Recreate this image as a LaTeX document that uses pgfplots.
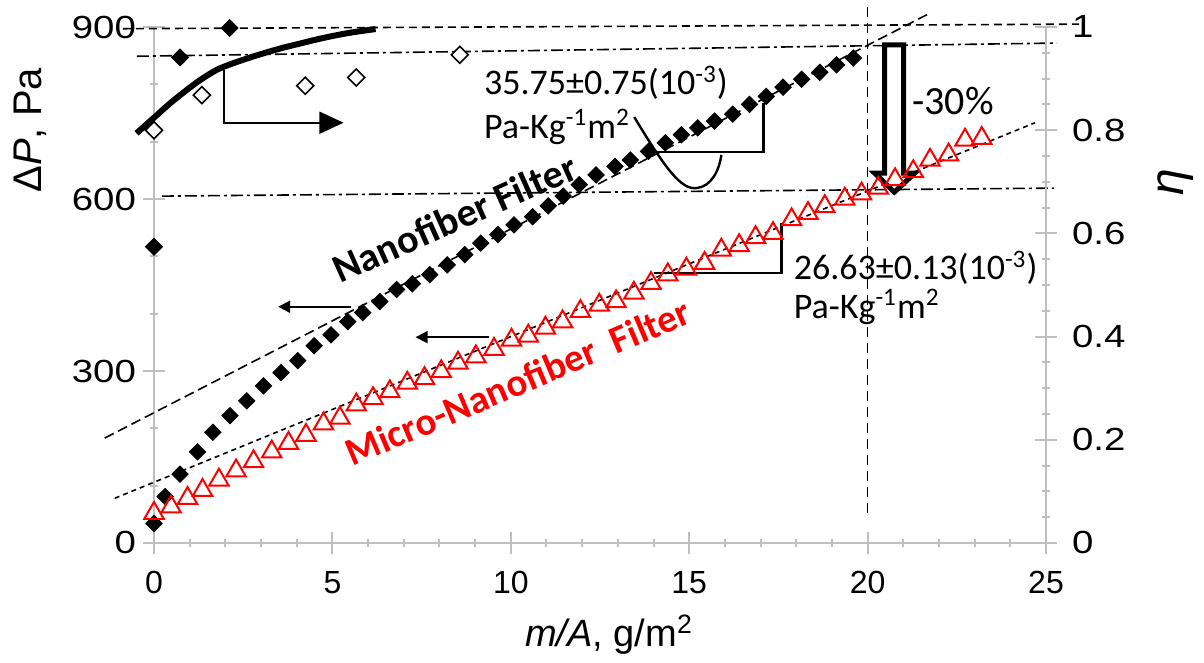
\documentclass[border=0pt]{standalone}
\usepackage{pgfplots}
\pgfplotsset{compat=1.18}
\usepackage{fontspec}
\setmainfont{Liberation Sans}
\newfontfamily\calfont{Carlito}
\usetikzlibrary{arrows.meta,calc}

\definecolor{axgray}{RGB}{191,191,191}

\pgfplotsset{
  base/.style={
    width=446pt, height=258pt, scale only axis,
    xmin=0, xmax=25,
    axis line style={axgray, line width=1pt},
    tick style={axgray, line width=1pt},
    tick align=center,
    major tick length=11pt,
    minor tick length=4pt,
    clip=false,
    tick label style={font=\fontsize{16}{18}\selectfont},
    /pgf/number format/assume math mode=true,
  }
}

\begin{document}
\begin{tikzpicture}

% left axis: pressure drop
\begin{axis}[base, name=ax,
  axis x line*=bottom, axis y line*=left,
  ymin=0, ymax=900,
  xtick={0,5,10,15,20,25}, minor x tick num=4,
  ytick={0,300,600,900}, minor y tick num=2,
  yticklabel={\scalebox{1.2}[1]{\pgfmathprintnumber{\tick}}},
  xticklabel style={yshift=-5pt},
  xlabel={\textit{m/A}, g/m\textsuperscript{2}},
  ylabel={Δ\textit{P}, Pa},
  x label style={at={(axis description cs:0.51,-0.178)}, anchor=center, font=\fontsize{19}{22}\selectfont},
  y label style={at={(axis description cs:-0.139,0.80)}, anchor=center, font=\fontsize{20}{23}\selectfont},
]
% reference lines
\addplot[black, line width=0.8pt, dash pattern=on 4pt off 2.5pt] coordinates {(-0.87,897) (25.93,905)};
\addplot[black, line width=0.8pt, dash pattern=on 6pt off 2pt on 1.5pt off 2pt] coordinates {(-0.48,849) (25.31,872)};
\addplot[black, line width=0.8pt, dash pattern=on 6pt off 2pt on 1.5pt off 2pt] coordinates {(0.22,605) (25.22,619)};
\addplot[black, line width=0.8pt, dash pattern=on 5pt off 3pt] coordinates {(20,935) (20,45)};
% linear fits
\addplot[black, line width=0.8pt, dash pattern=on 5pt off 2.5pt] coordinates {(-1.38,183) (21.71,923)};
\addplot[black, line width=0.8pt, dash pattern=on 2.5pt off 2pt] coordinates {(-1.10,78) (24.69,733)};

% Nanofiber filter
\addplot[only marks, mark=square*, mark size=2.9pt, mark options={rotate=45, black, fill=black}] coordinates {
(0.00,34) (0.31,81) (0.73,120) (1.22,159) (1.65,193) (2.13,222) (2.60,248) (3.07,274)
(3.56,297) (4.03,318) (4.49,344) (4.96,363) (5.43,386) (5.85,402) (6.33,421) (6.80,442)
(7.24,452) (7.73,468) (8.22,485) (8.71,503) (9.16,523) (9.64,538) (10.09,555) (10.61,569)
(11.05,588) (11.47,605) (11.92,625) (12.39,642) (12.92,657) (13.35,668) (13.86,683) (14.33,698)
(14.78,712) (15.24,724) (15.71,736) (16.22,748) (16.69,765) (17.16,779) (17.63,795) (18.15,809)
(18.66,821) (19.13,834) (19.60,846)
};
% Micro-Nanofiber filter
\addplot[only marks, mark=triangle, mark size=5.6pt, mark options={red, line width=1pt}] coordinates {
(0.00,52) (0.48,63) (0.94,78) (1.36,92) (1.82,110) (2.30,126) (2.79,142) (3.30,159)
(3.77,174) (4.26,188) (4.75,208) (5.21,218) (5.67,241) (6.14,252) (6.61,264) (7.10,279)
(7.58,287) (8.05,299) (8.52,314) (9.02,325) (9.53,338) (10.02,354) (10.49,361) (10.97,375)
(11.45,386) (11.95,404) (12.48,415) (12.95,421) (13.45,436) (13.93,453) (14.40,468) (14.92,478)
(15.43,488) (15.90,511) (16.40,519) (16.86,533) (17.35,540) (17.87,564) (18.33,575) (18.80,587)
(19.36,600) (19.83,609) (20.30,619) (20.77,634) (21.28,648) (21.75,668) (22.27,677) (22.73,703)
(23.20,706)
};

% slope triangles and callout
\draw[line width=1.4pt] (axis cs:13.93,682) -- (axis cs:17.08,682) -- (axis cs:17.08,767);
\draw[line width=1.4pt] (axis cs:14.02,471) -- (axis cs:17.58,471) -- (axis cs:17.58,558);
\draw[line width=1.2pt] (axis cs:13.46,743) .. controls (axis cs:14.35,651) and (axis cs:14.78,616) .. (axis cs:15.20,619)
  .. controls (axis cs:15.62,621) and (axis cs:15.85,651) .. (axis cs:15.90,677);

% arrows
\draw[line width=0.9pt, -{Triangle[length=12pt,width=11pt]}] (axis cs:1.97,825) -- (axis cs:1.97,733) -- (axis cs:5.31,733);
\draw[line width=0.9pt, -{Triangle[length=6pt,width=6pt]}] (axis cs:5.51,412) -- (axis cs:3.48,412);
\draw[line width=0.9pt, -{Triangle[length=6pt,width=6pt]}] (axis cs:9.38,359) -- (axis cs:7.33,359);
\draw[line width=2.5pt, fill=white, line join=miter] (axis cs:20.48,869) -- (axis cs:21.01,869) -- (axis cs:21.01,645)
  -- (axis cs:21.32,645) -- (axis cs:20.75,612) -- (axis cs:20.20,645) -- (axis cs:20.48,645) -- cycle;

% texts
\node[anchor=base west, inner sep=0, font=\calfont\fontsize{18}{20}\selectfont] at (axis cs:9.24,782) {35.75±0.75(10\textsuperscript{-3})};
\node[anchor=base west, inner sep=0, font=\calfont\fontsize{18}{20}\selectfont] at (axis cs:9.24,706) {Pa-Kg\textsuperscript{-1}m\textsuperscript{2}};
\node[anchor=base west, inner sep=0, font=\calfont\fontsize{18}{20}\selectfont] at (axis cs:17.92,459) {26.63±0.13(10\textsuperscript{-3})};
\node[anchor=base west, inner sep=0, font=\calfont\fontsize{18}{20}\selectfont] at (axis cs:17.92,392) {Pa-Kg\textsuperscript{-1}m\textsuperscript{2}};
\node[anchor=base west, inner sep=0, font=\calfont\fontsize{20}{22}\selectfont] at (axis cs:21.24,747) {-30\%};
\node[rotate=24, inner sep=0, font=\calfont\bfseries\fontsize{20}{22}\selectfont] at (axis cs:8.43,567) {Nanofiber Filter};
\node[rotate=23, inner sep=0, text=red, font=\calfont\bfseries\fontsize{19.5}{22}\selectfont] at (axis cs:10.20,281) {Micro-Nanofiber\ \ Filter};
\end{axis}

% right axis: efficiency
\begin{axis}[base,
  axis x line=none, axis y line*=right,
  ymin=0, ymax=1,
  ytick={0,0.2,0.4,0.6,0.8,1}, minor y tick num=3,
  yticklabel={\scalebox{1.2}[1]{\pgfmathprintnumber{\tick}}},
  yticklabel style={xshift=4pt},
  ylabel={\textit{η}},
  y label style={at={(axis description cs:1.145,0.70)}, anchor=center, font=\fontsize{24}{26}\selectfont},
]
\addplot[black, line width=3pt, smooth] coordinates {
(-0.49,0.794) (-0.02,0.823) (0.45,0.852) (0.92,0.878) (1.29,0.897) (1.76,0.917) (2.23,0.930)
(2.70,0.941) (3.17,0.951) (3.63,0.960) (4.10,0.968) (4.57,0.976) (5.04,0.983) (5.51,0.989) (6.21,0.996)
};
\addplot[only marks, mark=square*, mark size=3pt, mark options={rotate=45, black, fill=white, line width=0.8pt}] coordinates {
(0,0.800) (1.34,0.868) (4.24,0.886) (5.67,0.902) (8.57,0.946)
};
\addplot[only marks, mark=square*, mark size=3pt, mark options={rotate=45, black, fill=black}] coordinates {
(0,0.574) (0.73,0.941) (2.12,0.998)
};
\end{axis}

\pgfresetboundingbox
\path ($(ax.south west)+(-77pt,-60pt)$) rectangle ($(ax.north east)+(79pt,13.5pt)$);
\end{tikzpicture}
\end{document}
